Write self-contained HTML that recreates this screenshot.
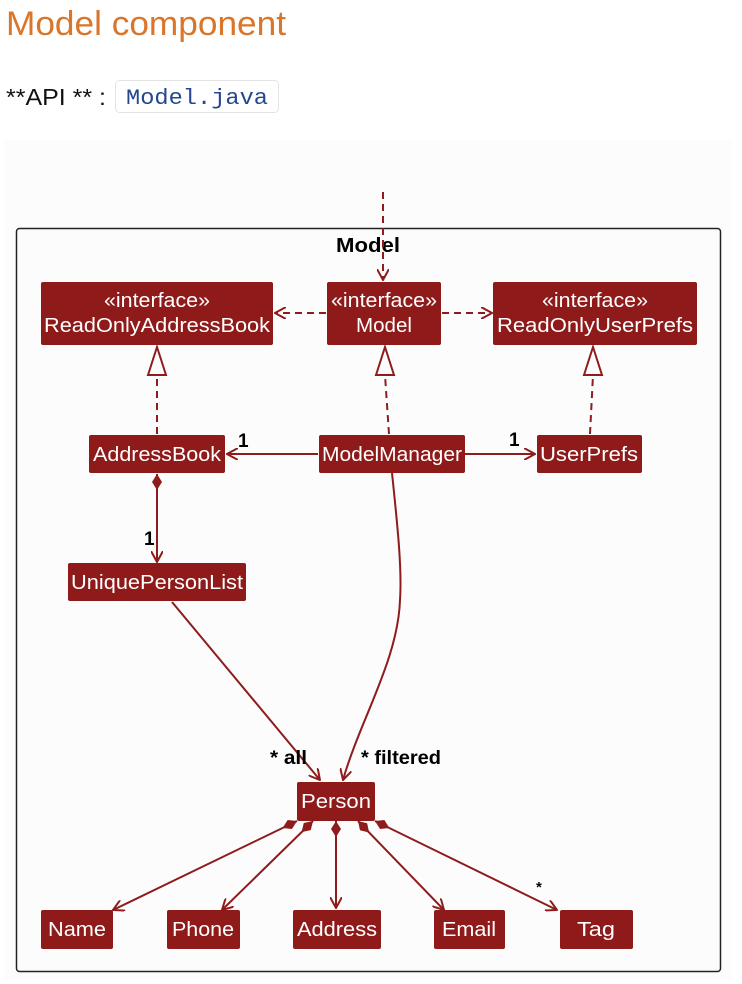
<!DOCTYPE html>
<html><head><meta charset="utf-8"><style>
body{margin:0;background:#fff;width:742px;height:979px;overflow:hidden;font-family:"Liberation Sans",sans-serif;}
</style></head><body>
<svg width="742" height="979" xmlns="http://www.w3.org/2000/svg" font-family="Liberation Sans, sans-serif">
<defs>
<marker id="oarr" viewBox="0 0 12 12" refX="11" refY="6" markerWidth="12" markerHeight="12" markerUnits="userSpaceOnUse" orient="auto">
<path d="M0,0 L11,6 L0,12" fill="none" stroke="#8e1c1c" stroke-width="2"/></marker>
<marker id="dia" viewBox="0 0 16 10" refX="0" refY="5" markerWidth="16" markerHeight="10" markerUnits="userSpaceOnUse" orient="auto">
<path d="M0,5 L8,0 L16,5 L8,10 Z" fill="#8e1c1c"/></marker>
</defs>
<text x="6" y="35" font-size="34" fill="#d9762a" textLength="280" lengthAdjust="spacingAndGlyphs">Model component</text>
<text x="6" y="105" font-size="23" fill="#111" textLength="100" lengthAdjust="spacingAndGlyphs">**API ** :</text>
<rect x="115.5" y="80.5" width="163" height="32" rx="4" fill="#fff" stroke="#e4e4e4"/>
<text x="126" y="104" font-size="22" font-family="Liberation Mono, monospace" fill="#24478f" textLength="142" lengthAdjust="spacingAndGlyphs">Model.java</text>
<rect x="4" y="140" width="728" height="839" fill="#fcfcfc"/>
<rect x="16.5" y="228.5" width="704" height="743" rx="3" fill="none" stroke="#222" stroke-width="1.5"/>
<text x="368" y="252" font-size="20" font-weight="bold" text-anchor="middle" fill="#000" textLength="64" lengthAdjust="spacingAndGlyphs">Model</text>
<g stroke="#8e1c1c" stroke-width="2" fill="none">
<path d="M383,192 L383,280" stroke-dasharray="7,5" marker-end="url(#oarr)"/>
<path d="M326,313 L275,313" stroke-dasharray="7,5" marker-end="url(#oarr)"/>
<path d="M442,313 L492,313" stroke-dasharray="7,5" marker-end="url(#oarr)"/>
<path d="M157,434 L157,375" stroke-dasharray="7,5"/>
<path d="M148,375 L157,347 L166,375 Z" fill="#fcfcfc"/>
<path d="M389,434 L385,375" stroke-dasharray="7,5"/>
<path d="M376,375 L385,347 L394,375 Z" fill="#fcfcfc"/>
<path d="M590,434 L593,375" stroke-dasharray="7,5"/>
<path d="M584,375 L593,347 L602,375 Z" fill="#fcfcfc"/>
<path d="M318,454 L227,454" marker-end="url(#oarr)"/>
<path d="M464,454 L535,454" marker-end="url(#oarr)"/>
<path d="M157,474 L157,562" marker-start="url(#dia)" marker-end="url(#oarr)"/>
<path d="M172,602 L320,780" marker-end="url(#oarr)"/>
<path d="M392,473 C398,530 402,570 400,600 C398,660 360,720 343,780" marker-end="url(#oarr)"/>
<path d="M297,821 L113,910" marker-start="url(#dia)" marker-end="url(#oarr)"/>
<path d="M313,821 L222,910" marker-start="url(#dia)" marker-end="url(#oarr)"/>
<path d="M336,821 L336,908" marker-start="url(#dia)" marker-end="url(#oarr)"/>
<path d="M358,821 L444,910" marker-start="url(#dia)" marker-end="url(#oarr)"/>
<path d="M375,821 L557,910" marker-start="url(#dia)" marker-end="url(#oarr)"/>
</g>
<g font-size="19" font-weight="bold" fill="#000">
<text x="238" y="447">1</text>
<text x="509" y="446">1</text>
<text x="144" y="545">1</text>
<text x="270" y="764" textLength="37" lengthAdjust="spacingAndGlyphs">* all</text>
<text x="361" y="764" textLength="80" lengthAdjust="spacingAndGlyphs">* filtered</text>
<text x="536" y="892" font-size="15">*</text>
</g>
<g fill="#8e1a1a">
<rect x="41" y="282" width="232" height="63" rx="2"/>
<rect x="327" y="282" width="114" height="63" rx="2"/>
<rect x="493" y="282" width="204" height="63" rx="2"/>
<rect x="89" y="435" width="136" height="38" rx="2"/>
<rect x="319" y="435" width="146" height="38" rx="2"/>
<rect x="537" y="435" width="105" height="38" rx="2"/>
<rect x="68" y="563" width="178" height="38" rx="2"/>
<rect x="297" y="782" width="78" height="39" rx="2"/>
<rect x="41" y="910" width="72" height="39" rx="2"/>
<rect x="167" y="910" width="73" height="39" rx="2"/>
<rect x="293" y="910" width="88" height="39" rx="2"/>
<rect x="434" y="910" width="71" height="39" rx="2"/>
<rect x="560" y="910" width="73" height="39" rx="2"/>
</g>
<g fill="#fff" font-size="20" text-anchor="middle">
<text x="157" y="307" textLength="106" lengthAdjust="spacingAndGlyphs">«interface»</text>
<text x="157" y="332" textLength="226" lengthAdjust="spacingAndGlyphs">ReadOnlyAddressBook</text>
<text x="384" y="307" textLength="106" lengthAdjust="spacingAndGlyphs">«interface»</text>
<text x="384" y="332" textLength="56" lengthAdjust="spacingAndGlyphs">Model</text>
<text x="595" y="307" textLength="106" lengthAdjust="spacingAndGlyphs">«interface»</text>
<text x="595" y="332" textLength="196" lengthAdjust="spacingAndGlyphs">ReadOnlyUserPrefs</text>
<text x="157" y="461" textLength="128" lengthAdjust="spacingAndGlyphs">AddressBook</text>
<text x="392" y="461" textLength="140" lengthAdjust="spacingAndGlyphs">ModelManager</text>
<text x="589" y="461" textLength="98" lengthAdjust="spacingAndGlyphs">UserPrefs</text>
<text x="157" y="589" textLength="172" lengthAdjust="spacingAndGlyphs">UniquePersonList</text>
<text x="336" y="808" textLength="70" lengthAdjust="spacingAndGlyphs">Person</text>
<text x="77" y="936" textLength="58" lengthAdjust="spacingAndGlyphs">Name</text>
<text x="203" y="936" textLength="62" lengthAdjust="spacingAndGlyphs">Phone</text>
<text x="337" y="936" textLength="80" lengthAdjust="spacingAndGlyphs">Address</text>
<text x="469" y="936" textLength="54" lengthAdjust="spacingAndGlyphs">Email</text>
<text x="596" y="936" textLength="38" lengthAdjust="spacingAndGlyphs">Tag</text>
</g>
</svg>
</body></html>
